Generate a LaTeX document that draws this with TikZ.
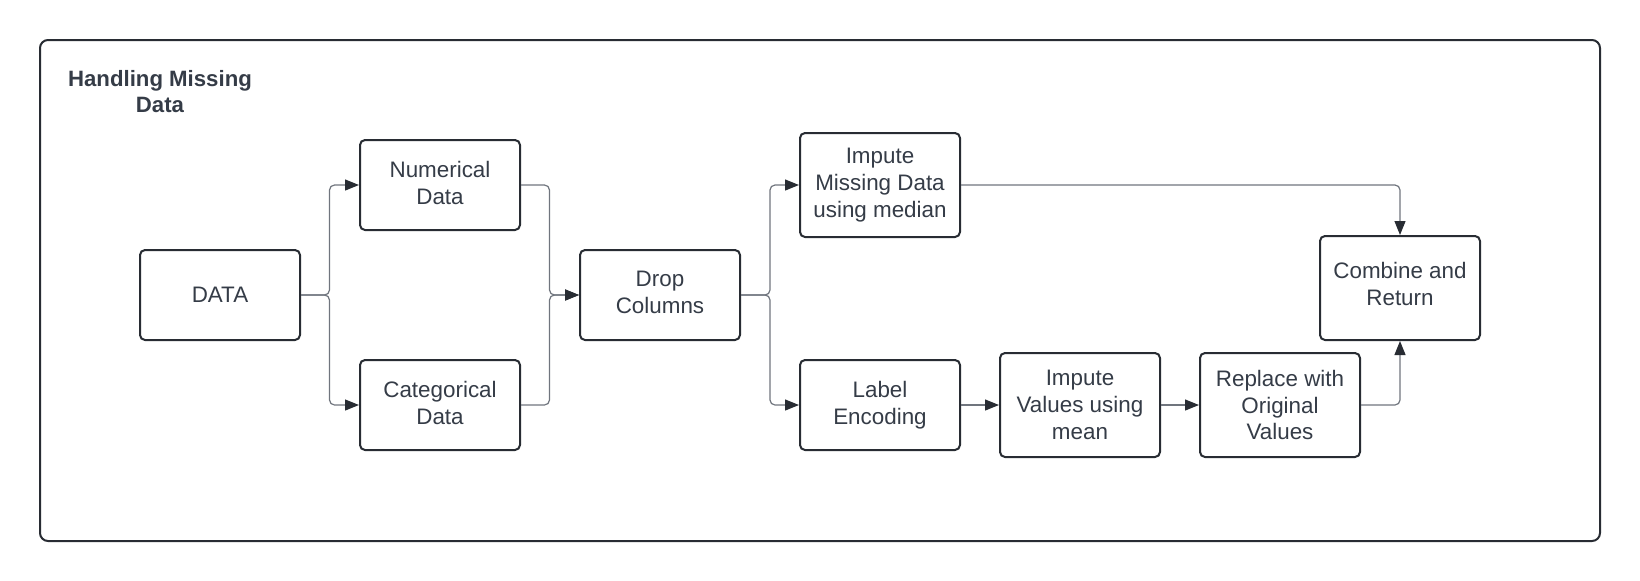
\documentclass[tikz,border=0pt]{standalone}
\usepackage{fontspec}
\setmainfont{Liberation Sans}
\usetikzlibrary{arrows.meta}
\definecolor{boxline}{HTML}{282C33}
\definecolor{txt}{HTML}{353C47}
\definecolor{conn}{HTML}{70757E}
\tikzset{
  box/.style={draw=boxline, line width=1pt, rounded corners=2.5pt, fill=white,
    minimum width=80pt, minimum height=45pt, align=center, text=txt,
    font=\fontsize{11.2}{13.4}\selectfont, inner sep=2pt},
  tallbox/.style={box, minimum height=52pt},
  link/.style={draw=conn, line width=0.6pt, rounded corners=2.5pt,
    -{Triangle[length=7pt,width=5.5pt,color=boxline]}},
  title/.style={align=center, text=txt, font=\fontsize{11.1}{13}\selectfont\bfseries}
}
\begin{document}
\begin{tikzpicture}[x=0.5pt,y=-0.5pt]
\useasboundingbox (0,0) rectangle (1640,580);
\draw[draw=boxline, line width=1pt, rounded corners=4pt] (40,40) rectangle (1600,541);
\node[title] (ttl) at (160,91.5) {Handling Missing\\Data};

\node[box] (data) at (220,295) {DATA};
\node[box] (num) at (440,185) {Numerical\\Data\\[-11pt]\mbox{}};
\node[box] (cat) at (440,405) {Categorical\\Data\\[-11pt]\mbox{}};
\node[box] (drop) at (660,295) {Drop\\Columns\\[-11pt]\mbox{}};
\node[tallbox] (med) at (880,185) {Impute\\Missing Data\\using median};
\node[box] (lab) at (880,405) {Label\\Encoding\\[-11pt]\mbox{}};
\node[tallbox] (mean) at (1080,405) {Impute\\Values using\\mean};
\node[tallbox] (rep) at (1280,405) {Replace with\\Original\\Values};
\node[tallbox] (comb) at (1400,288) {Combine and\\Return\\[-9pt]\mbox{}};

\coordinate (j1) at (329.5,295);
\coordinate (j2) at (549.5,295);
\coordinate (j3) at (770,295);

\draw[link] (data.east) -- (j1) |- (num.west);
\draw[link] (data.east) -- (j1) |- (cat.west);
\draw[link] (num.east) -| (j2) -- (drop.west);
\draw[link] (cat.east) -| (j2) -- (drop.west);
\draw[link] (drop.east) -- (j3) |- (med.west);
\draw[link] (drop.east) -- (j3) |- (lab.west);
\draw[link] (med.east) -| (comb.north);
\draw[link] (lab.east) -- (mean.west);
\draw[link] (mean.east) -- (rep.west);
\draw[link] (rep.east) -| (comb.south);
\end{tikzpicture}
\end{document}
